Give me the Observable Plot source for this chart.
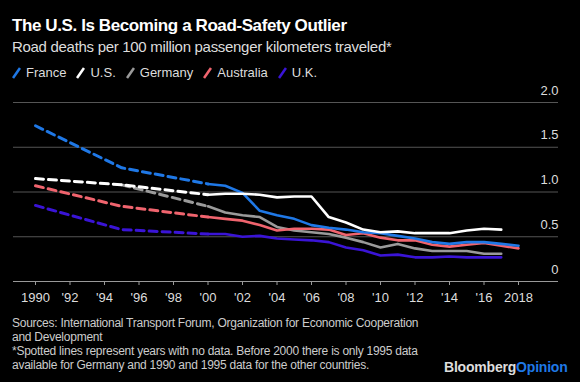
<!DOCTYPE html>
<html><head><meta charset="utf-8">
<script src="https://cdn.jsdelivr.net/npm/d3@7"></script>
<script src="https://cdn.jsdelivr.net/npm/@observablehq/plot@0.6"></script>
<style>
html,body{margin:0;padding:0;background:#000;}
#wrap{position:relative;width:580px;height:382px;background:#000;overflow:hidden;font-family:"Liberation Sans",Arial,sans-serif;color:#ddd;}
.abs{position:absolute;white-space:nowrap;}
#title{left:12px;top:16px;font-size:17px;font-weight:bold;color:#fff;letter-spacing:-0.4px;}
#subtitle{left:12px;top:38px;font-size:15px;color:#ddd;letter-spacing:-0.3px;}
#legend{left:12px;top:65px;font-size:13px;color:#ddd;display:flex;gap:10px;align-items:center;}
#legend span{display:inline-flex;align-items:center;gap:5px;}
#chart{position:absolute;left:0;top:75px;}
#foot{left:12px;top:316px;font-size:12px;line-height:14px;color:#ccc;letter-spacing:-0.25px;}
#logo{left:444px;top:359px;font-size:14px;font-weight:bold;color:#ddd;letter-spacing:-0.2px;}
#logo b{color:#1f78e6;}
</style></head>
<body><div id="wrap">
<div id="title" class="abs">The U.S. Is Becoming a Road-Safety Outlier</div>
<div id="subtitle" class="abs">Road deaths per 100 million passenger kilometers traveled*</div>
<div id="legend" class="abs"></div>
<div id="chart"></div>
<div id="foot" class="abs">Sources: International Transport Forum, Organization for Economic Cooperation<br>and Development<br>*Spotted lines represent years with no data. Before 2000 there is only 1995 data<br>available for Germany and 1990 and 1995 data for the other countries.</div>
<div id="logo" class="abs">Bloomberg<b>Opinion</b></div>
</div>
<script>
const years = [1990,1995,2000,2001,2002,2003,2004,2005,2006,2007,2008,2009,2010,2011,2012,2013,2014,2015,2016,2017,2018];
const france    = [1.74,1.27,1.09,1.07,0.99,0.79,0.74,0.70,0.63,0.60,0.58,0.55,0.54,0.51,0.48,0.44,0.42,0.44,0.44,0.42,0.40];
const us        = [1.15,1.08,0.97,0.98,0.98,0.97,0.94,0.95,0.95,0.72,0.66,0.58,0.55,0.56,0.54,0.54,0.54,0.57,0.59,0.58,null];
const germany   = [null,1.08,0.84,0.77,0.74,0.72,0.61,0.57,0.55,0.53,0.49,0.44,0.38,0.42,0.37,0.34,0.34,0.34,0.31,0.31,null];
const australia = [1.07,0.84,0.72,0.70,0.68,0.63,0.57,0.59,0.59,0.58,0.52,0.54,0.49,0.46,0.46,0.41,0.39,0.41,0.43,0.40,0.37];
const uk        = [0.85,0.58,0.53,0.53,0.50,0.51,0.48,0.47,0.46,0.44,0.38,0.35,0.29,0.30,0.27,0.27,0.28,0.27,0.27,0.27,null];
const countries = ["France","U.S.","Germany","Australia","U.K."];
const colors = ["#1f78e6","#ffffff","#9a9a9a","#f0646e","#3a14d6"];
const xTicks = [1990,1992,1994,1996,1998,2000,2002,2004,2006,2008,2010,2012,2014,2016,2018];
const yTicks = [0,0.5,1,1.5,2];

const seriesList = [france, us, germany, australia, uk];
const rows = [];
// draw order: U.K., Germany, Australia, France, U.S.
[4,2,3,0,1].forEach(ci => {
  years.forEach((yr, i) => {
    const v = seriesList[ci][i];
    if (v != null) rows.push({country: countries[ci], year: yr, value: v});
  });
});

// legend
const leg = document.getElementById("legend");
countries.forEach((c, i) => {
  const s = document.createElement("span");
  s.innerHTML = `<svg width="9" height="12"><line x1="1" y1="11" x2="8" y2="1" stroke="${colors[i]}" stroke-width="2.6"/></svg>${c}`;
  leg.appendChild(s);
});

const chart = Plot.plot({
  width: 580, height: 235,
  marginLeft: 35, marginRight: 62, marginTop: 27, marginBottom: 29,
  style: {background: "transparent", color: "#ddd", fontFamily: "Liberation Sans, Arial, sans-serif", fontSize: "13px"},
  x: {domain: [1990, 2018]},
  y: {domain: [0, 2]},
  color: {domain: countries, range: colors},
  marks: [
    Plot.ruleY(yTicks.slice(1), {stroke: "#555", strokeWidth: 1.2, insetLeft: -22, insetRight: -40}),
    Plot.ruleY([0], {stroke: "#999", strokeWidth: 1.2, insetLeft: -22, insetRight: -40}),
    Plot.axisX({ticks: xTicks, tickSize: 4, tickPadding: 7, stroke: "#999", fill: "#ddd", fontSize: 13,
      tickFormat: d => (d === 1990 || d === 2018) ? String(d) : "'" + String(d).slice(2), label: null}),
    Plot.axisY({ticks: yTicks, anchor: "right", tickSize: 0, tickPadding: 0, dx: 40, dy: -12, textAnchor: "end", fill: "#ddd", fontSize: 13,
      tickFormat: d => d === 0 ? "0" : d.toFixed(1), label: null}),
    Plot.line(rows.filter(d => d.year <= 2000), {x: "year", y: "value", z: "country", stroke: "country",
      strokeWidth: 3, strokeDasharray: "8,5", curve: "linear"}),
    Plot.line(rows.filter(d => d.year >= 2000), {x: "year", y: "value", z: "country", stroke: "country",
      strokeWidth: 2.6, curve: "linear"})
  ]
});
document.getElementById("chart").appendChild(chart);
</script>
</body></html>
